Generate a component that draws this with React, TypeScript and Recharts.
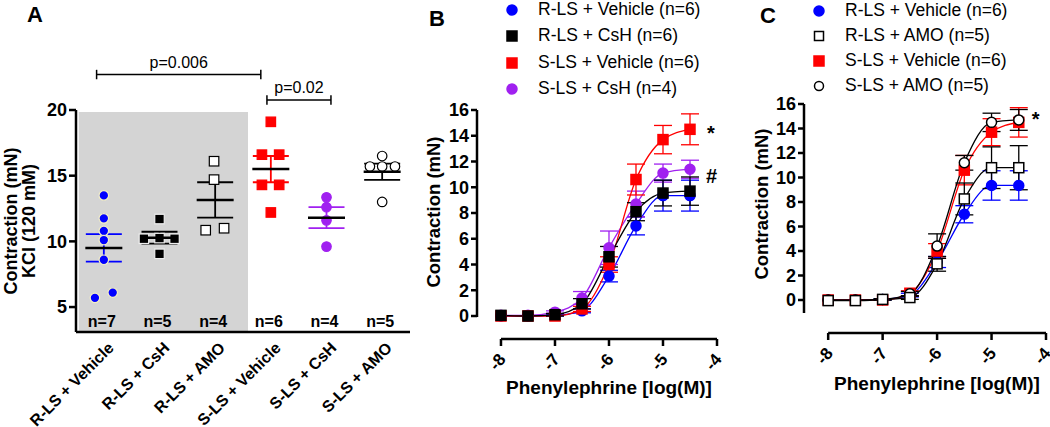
import React from 'react'
import {
  ComposedChart,
  Scatter,
  Line,
  XAxis,
  YAxis,
  ErrorBar,
  ReferenceLine,
  ReferenceArea,
  ReferenceDot,
} from 'recharts'

const FONT = '"Liberation Sans", Arial, Helvetica, sans-serif'

// ---------- Panel A: KCl (120 mM) contraction ----------
const groupNames = ['R-LS + Vehicle', 'R-LS + CsH', 'R-LS + AMO', 'S-LS + Vehicle', 'S-LS + CsH', 'S-LS + AMO']
const groupN = [7, 5, 4, 6, 4, 5]
const groupMean = [9.5, 10.28, 13.15, 15.5, 11.8, 15.3]
const groupSem = [1.05, 0.45, 1.35, 1.0, 0.8, 0.62]

// single vessels: [group index + jitter, contraction (mN)]
const rlsVehiclePts = [[0, 13.5], [0, 11.75], [0, 10.8], [0, 10.1], [0, 8.6], [0.16, 6.1], [-0.16, 5.7]]
const rlsCshPts = [[1, 11.7], [0.72, 10.2], [1, 10.25], [1.27, 10.2], [1, 9.05]]
const rlsAmoPts = [[1.98, 16.1], [1.98, 14.7], [1.83, 10.85], [2.16, 11.0]]
const slsVehiclePts = [[3, 19.1], [2.84, 16.6], [3.15, 16.6], [2.84, 14.3], [3.15, 14.3], [3, 12.2]]
const slsCshPts = [[4, 13.35], [4, 12.6], [4, 11.6], [4, 9.6]]
const slsAmoPts = [[5, 16.5], [4.78, 15.7], [5, 15.7], [5.23, 15.7], [5, 13.0]]

const pBrackets = [
  { from: -0.13, to: 2.82, y: 22.7, text: 'p=0.006' },
  { from: 2.93, to: 4.08, y: 20.76, text: 'p=0.02' },
]

// ---------- Panels B & C: phenylephrine dose response ----------
const logPE = [-8, -7.5, -7, -6.5, -6, -5.5, -5, -4.5]
const rlsVehicle = [0, 0, 0.05, 0.4, 3.1, 7.0, 9.35, 9.35]
const rlsVehicleSem = [0, 0, 0.05, 0.15, 0.45, 0.7, 1.2, 1.2]
const rlsCsh = [0.05, 0, 0.1, 0.95, 4.6, 8.1, 9.55, 9.7]
const rlsCshSem = [0, 0, 0.1, 0.4, 0.8, 0.7, 1.0, 1.1]
const slsVehicle = [0, 0, 0, 0.55, 4.0, 10.6, 13.7, 14.5]
const slsVehicleSem = [0, 0, 0, 0.2, 0.6, 1.2, 1.1, 1.2]
const slsCsh = [0.05, 0.05, 0.3, 1.4, 5.3, 8.7, 11.1, 11.4]
const slsCshSem = [0, 0, 0.1, 0.5, 1.3, 1.0, 0.7, 0.7]
const rlsAmo = [-0.05, -0.05, 0.05, 0.2, 2.95, 8.25, 10.8, 10.8]
const rlsAmoSem = [0, 0, 0.05, 0.15, 0.6, 1.3, 1.7, 1.8]
const slsAmo = [0, 0, 0.05, 0.5, 4.4, 11.2, 14.5, 14.7]
const slsAmoSem = [0, 0, 0.05, 0.2, 1.0, 0.6, 0.75, 0.85]

const BLUE = '#0000ff'
const RED = '#ff0000'
const PURPLE = '#a020f0'
const axisStroke = { stroke: '#000', strokeWidth: 2.5 }

const Marker = ({ cx, cy, shape, fill, stroke, size, sw = 1.5 }: any) => {
  if (cx == null || cy == null) return null
  const r = size / 2
  if (shape === 'square')
    return <rect x={cx - r} y={cy - r} width={size} height={size} fill={fill} stroke={stroke} strokeWidth={sw} />
  return <circle cx={cx} cy={cy} r={r} fill={fill} stroke={stroke} strokeWidth={sw} />
}

const groupPts = [rlsVehiclePts, rlsCshPts, rlsAmoPts, slsVehiclePts, slsCshPts, slsAmoPts]
const groupStyle = [
  { shape: 'circle', fill: BLUE, stroke: '#f3efc4', sem: BLUE },
  { shape: 'square', fill: '#000', stroke: '#eee', sem: '#000' },
  { shape: 'square', fill: '#fff', stroke: '#000', sem: '#000' },
  { shape: 'square', fill: RED, stroke: RED, sem: RED },
  { shape: 'circle', fill: PURPLE, stroke: PURPLE, sem: PURPLE },
  { shape: 'circle', fill: '#fff', stroke: '#000', sem: '#000' },
]

const MeanBar = (p: any) => (
  <line x1={p.cx - 18.5} x2={p.cx + 18.5} y1={p.cy} y2={p.cy} stroke="#000" strokeWidth={2.5} />
)

const NLabel = (p: any) => (
  <text x={p.cx - 2} y={p.cy} textAnchor="middle" dominantBaseline="central" fontSize={16} fontWeight={700} fill="#000">
    {'n=' + p.payload.n}
  </text>
)

const GroupTick = ({ x, y, payload }: any) => (
  <text
    x={x + 3}
    y={y}
    transform={`rotate(-45 ${x + 3} ${y})`}
    textAnchor="end"
    dy="0.7em"
    fontSize={16}
    fontWeight={700}
    fill="#000"
  >
    {groupNames[payload.value]}
  </text>
)

const DoseTick = ({ x, y, payload }: any) => (
  <text
    x={x + 1}
    y={y}
    transform={`rotate(-50 ${x + 1} ${y})`}
    textAnchor="end"
    dy="0.35em"
    fontSize={17}
    fontWeight={700}
    fill="#000"
  >
    {payload.value}
  </text>
)

const PanelA = () => (
  <div style={{ position: 'absolute', left: 0, top: 0 }}>
    <ComposedChart width={420} height={427} margin={{ top: 110, right: 10, bottom: 0, left: 36 }}>
      <ReferenceArea x1={-0.45} x2={2.59} y1={3.1} y2={19.85} fill="#d4d4d4" fillOpacity={1} stroke="none" ifOverflow="visible" />
      <XAxis
        type="number"
        dataKey="x"
        domain={[-0.5, 5.5]}
        ticks={[0, 1, 2, 3, 4, 5]}
        interval={0}
        allowDataOverflow
        tickLine={false}
        tickSize={6}
        tickMargin={3}
        height={95}
        axisLine={axisStroke}
        tick={<GroupTick />}
      />
      <YAxis
        type="number"
        dataKey="y"
        domain={[3.1, 20]}
        ticks={[5, 10, 15, 20]}
        allowDataOverflow
        width={40}
        axisLine={axisStroke}
        tickLine={axisStroke}
        tickSize={7}
        tickMargin={2}
        tick={{ fill: '#000', fontSize: 18, fontWeight: 700 }}
      />
      {groupPts.map((pts, g) => (
        <Scatter
          key={'pts' + g}
          data={pts.map(([x, y]) => ({ x, y }))}
          isAnimationActive={false}
          shape={(p: any) => <Marker cx={p.cx} cy={p.cy} size={9.5} sw={1.2} {...groupStyle[g]} />}
        />
      ))}
      {groupNames.map((_, g) => (
        <Scatter
          key={'mean' + g}
          data={[{ x: g, y: groupMean[g], sem: groupSem[g] }]}
          isAnimationActive={false}
          shape={MeanBar}
        >
          <ErrorBar dataKey="sem" direction="y" width={18} stroke={groupStyle[g].sem} strokeWidth={1.8} />
        </Scatter>
      ))}
      <Scatter data={groupN.map((n, g) => ({ x: g, y: 3.88, n }))} isAnimationActive={false} shape={NLabel} />
      {pBrackets.map((b, i) => (
        <ReferenceLine
          key={'bh' + i}
          segment={[{ x: b.from, y: b.y }, { x: b.to, y: b.y }]}
          stroke="#000"
          strokeWidth={1.5}
          ifOverflow="visible"
          label={{ value: b.text, position: 'top', offset: 7, fill: '#000', fontSize: 16 }}
        />
      ))}
      {pBrackets.map((b, i) => (
        <ReferenceLine
          key={'bl' + i}
          segment={[{ x: b.from, y: b.y - 0.36 }, { x: b.from, y: b.y + 0.36 }]}
          stroke="#000"
          strokeWidth={1.5}
          ifOverflow="visible"
        />
      ))}
      {pBrackets.map((b, i) => (
        <ReferenceLine
          key={'br' + i}
          segment={[{ x: b.to, y: b.y - 0.36 }, { x: b.to, y: b.y + 0.36 }]}
          stroke="#000"
          strokeWidth={1.5}
          ifOverflow="visible"
        />
      ))}
    </ComposedChart>
  </div>
)

const rows = (vals: number[], sems: number[]) => logPE.map((x, i) => ({ x, y: vals[i], e: sems[i] }))

const seriesB = [
  { name: 'R-LS + Vehicle (n=6)', vals: rlsVehicle, sems: rlsVehicleSem, color: BLUE, shape: 'circle', fill: BLUE, stroke: BLUE },
  { name: 'R-LS + CsH (n=6)', vals: rlsCsh, sems: rlsCshSem, color: '#000', shape: 'square', fill: '#000', stroke: '#000' },
  { name: 'S-LS + Vehicle (n=6)', vals: slsVehicle, sems: slsVehicleSem, color: RED, shape: 'square', fill: RED, stroke: RED },
  { name: 'S-LS + CsH (n=4)', vals: slsCsh, sems: slsCshSem, color: PURPLE, shape: 'circle', fill: PURPLE, stroke: PURPLE },
]
const seriesC = [
  { name: 'R-LS + Vehicle (n=6)', vals: rlsVehicle, sems: rlsVehicleSem, color: BLUE, shape: 'circle', fill: BLUE, stroke: BLUE },
  { name: 'R-LS + AMO (n=5)', vals: rlsAmo, sems: rlsAmoSem, color: '#000', shape: 'square', fill: '#fff', stroke: '#000' },
  { name: 'S-LS + Vehicle (n=6)', vals: slsVehicle, sems: slsVehicleSem, color: RED, shape: 'square', fill: RED, stroke: RED },
  { name: 'S-LS + AMO (n=5)', vals: slsAmo, sems: slsAmoSem, color: '#000', shape: 'circle', fill: '#fff', stroke: '#000' },
]
const drawOrderB = [0, 3, 2, 1]
const drawOrderC = [0, 2, 3, 1]
const marksB = [{ y: 14.2, text: '*', offset: 17 }, { y: 10.9, text: '#', offset: 16 }]
const marksC = [{ y: 14.8, text: '*', offset: 13 }]

const DoseChart = ({ left, width, margin, xHeight, yMin, yAxisEnd, series, order, marks }: any) => (
  <div style={{ position: 'absolute', left, top: 0 }}>
    <ComposedChart width={width} height={427} margin={margin}>
      <XAxis
        type="number"
        dataKey="x"
        domain={[-8.444, -4]}
        ticks={[-8, -7, -6, -5, -4]}
        interval={0}
        allowDataOverflow
        height={xHeight}
        axisLine={false}
        tickLine={axisStroke}
        tickSize={7}
        tickMargin={10}
        tick={<DoseTick />}
      />
      <YAxis
        type="number"
        dataKey="y"
        domain={[yMin, 16]}
        ticks={[0, 2, 4, 6, 8, 10, 12, 14, 16]}
        interval={0}
        allowDataOverflow
        width={40}
        axisLine={false}
        tickLine={axisStroke}
        tickSize={6}
        tickMargin={2}
        tick={{ fill: '#000', fontSize: 18, fontWeight: 700 }}
      />
      <ReferenceLine segment={[{ x: -8.444, y: yAxisEnd }, { x: -8.444, y: 16 }]} {...axisStroke} ifOverflow="visible" />
      <ReferenceLine segment={[{ x: -8, y: yMin }, { x: -4, y: yMin }]} {...axisStroke} ifOverflow="visible" />
      {order.map((k: number) => {
        const s = series[k]
        return (
          <Line
            key={s.name}
            data={rows(s.vals, s.sems)}
            dataKey="y"
            type="monotone"
            stroke={s.color}
            strokeWidth={1.3}
            isAnimationActive={false}
            activeDot={false}
            dot={(p: any) => (
              <Marker key={s.name + p.index} cx={p.cx} cy={p.cy} shape={s.shape} fill={s.fill} stroke={s.stroke} size={10} />
            )}
          >
            <ErrorBar dataKey="e" direction="y" width={9} stroke={s.color} strokeWidth={1.3} />
          </Line>
        )
      })}
      {marks.map((m: any, i: number) => (
        <ReferenceDot
          key={'mk' + i}
          x={-4.5}
          y={m.y}
          r={0}
          ifOverflow="visible"
          label={{ value: m.text, position: 'right', offset: m.offset, fill: '#000', fontSize: 20, fontWeight: 700 }}
        />
      ))}
    </ComposedChart>
  </div>
)

const LegendBox = ({ series, markerX, textX, top, step }: any) => (
  <>
    {series.map((s: any, i: number) => (
      <React.Fragment key={s.name}>
        <svg width={14} height={14} style={{ position: 'absolute', left: markerX - 7, top: top + i * step - 7 }}>
          <Marker cx={7} cy={7} shape={s.shape} fill={s.fill} stroke={s.stroke} size={s.fill === '#fff' ? 9 : 10} />
        </svg>
        <div
          style={{
            position: 'absolute',
            left: textX,
            top: top + i * step,
            transform: 'translateY(-50%)',
            fontSize: 17.5,
            lineHeight: 1.1,
            whiteSpace: 'nowrap',
          }}
        >
          {s.name}
        </div>
      </React.Fragment>
    ))}
  </>
)

const Txt = ({ x, y, size, bold = true, rotate = false, children }: any) => (
  <div
    style={{
      position: 'absolute',
      left: x,
      top: y,
      transform: rotate ? 'translate(-50%, -50%) rotate(-90deg)' : 'translate(-50%, -50%)',
      fontSize: size,
      fontWeight: bold ? 700 : 400,
      lineHeight: 1,
      whiteSpace: 'nowrap',
    }}
  >
    {children}
  </div>
)

export default function App() {
  return (
    <div
      style={{
        position: 'absolute',
        left: 0,
        top: 0,
        width: 1050,
        height: 427,
        background: '#fff',
        color: '#000',
        fontFamily: FONT,
        overflow: 'hidden',
      }}
    >
      <PanelA />
      <DoseChart
        left={410}
        width={330}
        margin={{ top: 110, right: 23, bottom: 0, left: 27 }}
        xHeight={88}
        yMin={-1.786}
        yAxisEnd={-0.08}
        series={seriesB}
        order={drawOrderB}
        marks={marksB}
      />
      <DoseChart
        left={740}
        width={310}
        margin={{ top: 104, right: 4, bottom: 0, left: 24 }}
        xHeight={94}
        yMin={-2.694}
        yAxisEnd={-1.06}
        series={seriesC}
        order={drawOrderC}
        marks={marksC}
      />

      <Txt x={35} y={15} size={22}>A</Txt>
      <Txt x={437} y={19} size={22}>B</Txt>
      <Txt x={768} y={16} size={22}>C</Txt>

      <Txt x={11} y={221} size={18} rotate>Contraction (mN)</Txt>
      <Txt x={29} y={221} size={18} rotate>KCl (120 mM)</Txt>
      <Txt x={434} y={212} size={18.5} rotate>Contraction (mN)</Txt>
      <Txt x={762} y={204} size={18.5} rotate>Contraction (mN)</Txt>
      <Txt x={609} y={387} size={19}>Phenylephrine [log(M)]</Txt>
      <Txt x={937} y={383} size={19}>Phenylephrine [log(M)]</Txt>

      <LegendBox series={seriesB} markerX={512} textX={538} top={10} step={26.4} />
      <LegendBox series={seriesC} markerX={819} textX={845} top={11} step={25} />
    </div>
  )
}
